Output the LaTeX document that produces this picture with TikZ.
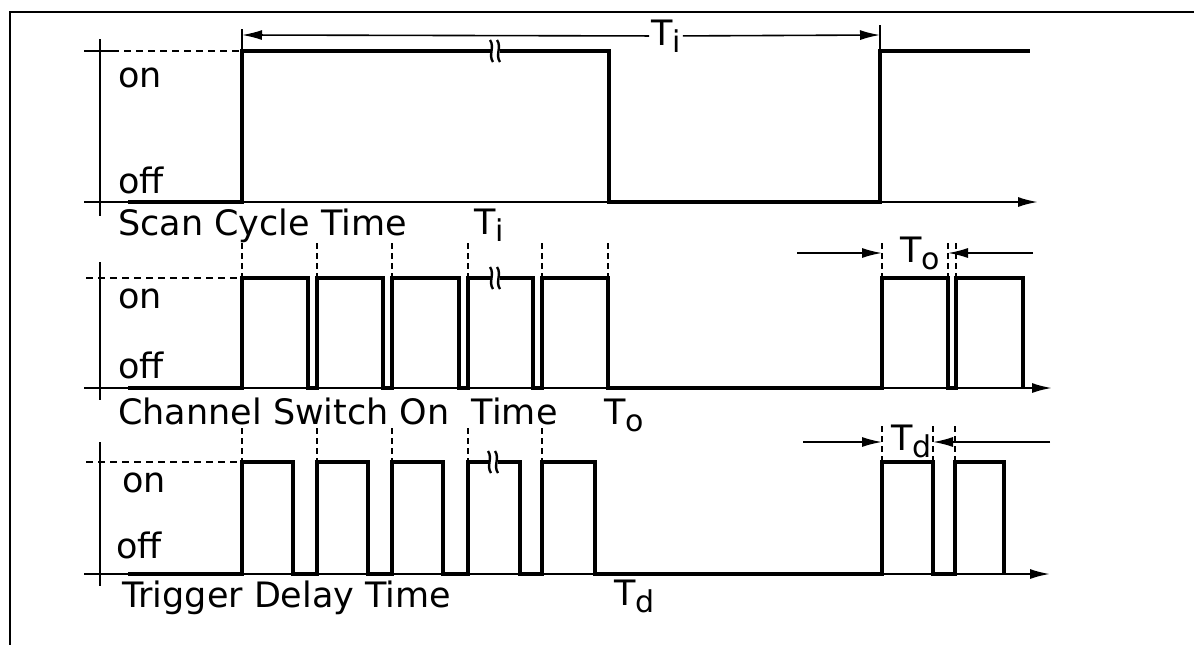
\documentclass[tikz,border=0pt]{standalone}
\usepackage{fontspec}
\setmainfont{DejaVu Sans}
\usetikzlibrary{arrows.meta}
\newcommand{\Tsub}[1]{T\kern-0.5pt\raisebox{-7pt}{\fontsize{30}{30}\selectfont #1}}
\tikzset{
  sig/.style={line width=3.2pt, line join=miter},
  axis/.style={line width=2pt, -{Latex[length=20pt,width=10pt]}},
  onlevel/.style={line width=1.6pt, dash pattern=on 7pt off 5pt},
  guide/.style={line width=1.5pt, dash pattern=on 6pt off 4pt},
  dimarrow/.style={line width=1.6pt, -{Latex[length=20pt,width=10pt]}},
  lbl/.style={font=\fontsize{35}{40}\selectfont, inner sep=0pt, anchor=base west},
  dimlbl/.style={font=\fontsize{35}{40}\selectfont, fill=white, inner sep=2pt},
  brk/.pic={
    \fill[white] (-4,-10) rectangle (4,10);
    \draw[line width=2.4pt] (-6,-11) .. controls (-1,-4) and (-8,4) .. (-3,11);
    \draw[line width=2.4pt] (1,-11) .. controls (6,-4) and (-1,4) .. (4,11);
  }
}
\begin{document}
\begin{tikzpicture}[x=1pt,y=-1pt]
  \useasboundingbox (0,0) rectangle (1194,645);
  % frame
  \draw[line width=2.5pt] (10,645) -- (10,12) -- (1194,12);

  % scan cycle time
  \draw[line width=2pt] (100,39) -- (100,216);
  \draw[line width=2pt] (84,51) -- (112,51);
  \draw[axis] (84,202) -- (1038,202);
  \draw[onlevel] (112,51) -- (242,51);
  \draw[sig] (128,202) -- (242,202) -- (242,51) -- (609,51) -- (609,202)
    -- (880,202) -- (880,51) -- (1030,51);
  \pic at (496,51) {brk};
  \draw[line width=1.6pt] (242,29) -- (242,51);
  \draw[line width=1.6pt] (880,25) -- (880,51);
  \coordinate (ti1) at (242,35);
  \coordinate (ti2) at (880,35);
  \node[dimlbl] (tilbl) at (666,36) {\Tsub{i}};
  \draw[dimarrow] (tilbl) -- (ti1);
  \draw[dimarrow] (tilbl) -- (ti2);
  \node[lbl] (on1) at (118,87) {on};
  \node[lbl] (off1) at (118,193) {off};
  \node[lbl] (name1) at (118,235) {Scan Cycle Time};
  \node[lbl] (ti) at (474,234) {\Tsub{i}};

  % channel switch on time
  \draw[line width=2pt] (100,262) -- (100,400);
  \draw[axis] (84,388) -- (1052,388);
  \draw[onlevel] (86,278) -- (242,278);
  \draw[sig] (128,388) -- (242,388) -- (242,278) -- (308,278) -- (308,388)
    -- (317,388) -- (317,278) -- (383,278) -- (383,388)
    -- (392,388) -- (392,278) -- (459,278) -- (459,388)
    -- (468,388) -- (468,278) -- (533,278) -- (533,388)
    -- (542,388) -- (542,278) -- (608,278) -- (608,388)
    -- (882,388) -- (882,278) -- (948,278) -- (948,388)
    -- (956,388) -- (956,278) -- (1023,278) -- (1023,388);
  \pic at (496,278) {brk};
  \foreach \x in {242,317,392,468,542,608}
    \draw[guide] (\x,243) -- (\x,278);
  \foreach \x in {882,948,956}
    \draw[guide] (\x,243) -- (\x,278);
  \coordinate (to1) at (797,253);
  \coordinate (to2) at (882,253);
  \coordinate (to3) at (1033,253);
  \coordinate (to4) at (948,253);
  \node[lbl] (tolbl) at (900,262) {\Tsub{o}};
  \draw[dimarrow] (to1) -- (to2);
  \draw[dimarrow] (to3) -- (to4);
  \node[lbl] (on2) at (118,308) {on};
  \node[lbl] (off2) at (118,378) {off};
  \node[lbl] (name2) at (118,424) {Channel Switch On\ \ Time};
  \node[lbl] (to) at (604,424) {\Tsub{o}};

  % trigger delay time
  \draw[line width=2pt] (100,442) -- (100,586);
  \draw[axis] (84,574) -- (1050,574);
  \draw[onlevel] (86,462) -- (242,462);
  \draw[sig] (128,574) -- (242,574) -- (242,462) -- (293,462) -- (293,574)
    -- (317,574) -- (317,462) -- (368,462) -- (368,574)
    -- (392,574) -- (392,462) -- (443,462) -- (443,574)
    -- (468,574) -- (468,462) -- (520,462) -- (520,574)
    -- (542,574) -- (542,462) -- (595,462) -- (595,574)
    -- (882,574) -- (882,462) -- (933,462) -- (933,574)
    -- (955,574) -- (955,462) -- (1004,462) -- (1004,574);
  \pic at (494,462) {brk};
  \foreach \x in {242,317,392,468,542}
    \draw[guide] (\x,428) -- (\x,462);
  \foreach \x in {882,933,955}
    \draw[guide] (\x,426) -- (\x,462);
  \coordinate (td1) at (803,442);
  \coordinate (td2) at (882,442);
  \coordinate (td3) at (1050,442);
  \coordinate (td4) at (933,442);
  \node[lbl] (tdlbl) at (891,450) {\Tsub{d}};
  \draw[dimarrow] (td1) -- (td2);
  \draw[dimarrow] (td3) -- (td4);
  \node[lbl] (on3) at (122,492) {on};
  \node[lbl] (off3) at (116,558) {off};
  \node[lbl] (name3) at (122,607) {Trigger Delay Time};
  \node[lbl] (td) at (614,605) {\Tsub{d}};
\end{tikzpicture}
\end{document}
